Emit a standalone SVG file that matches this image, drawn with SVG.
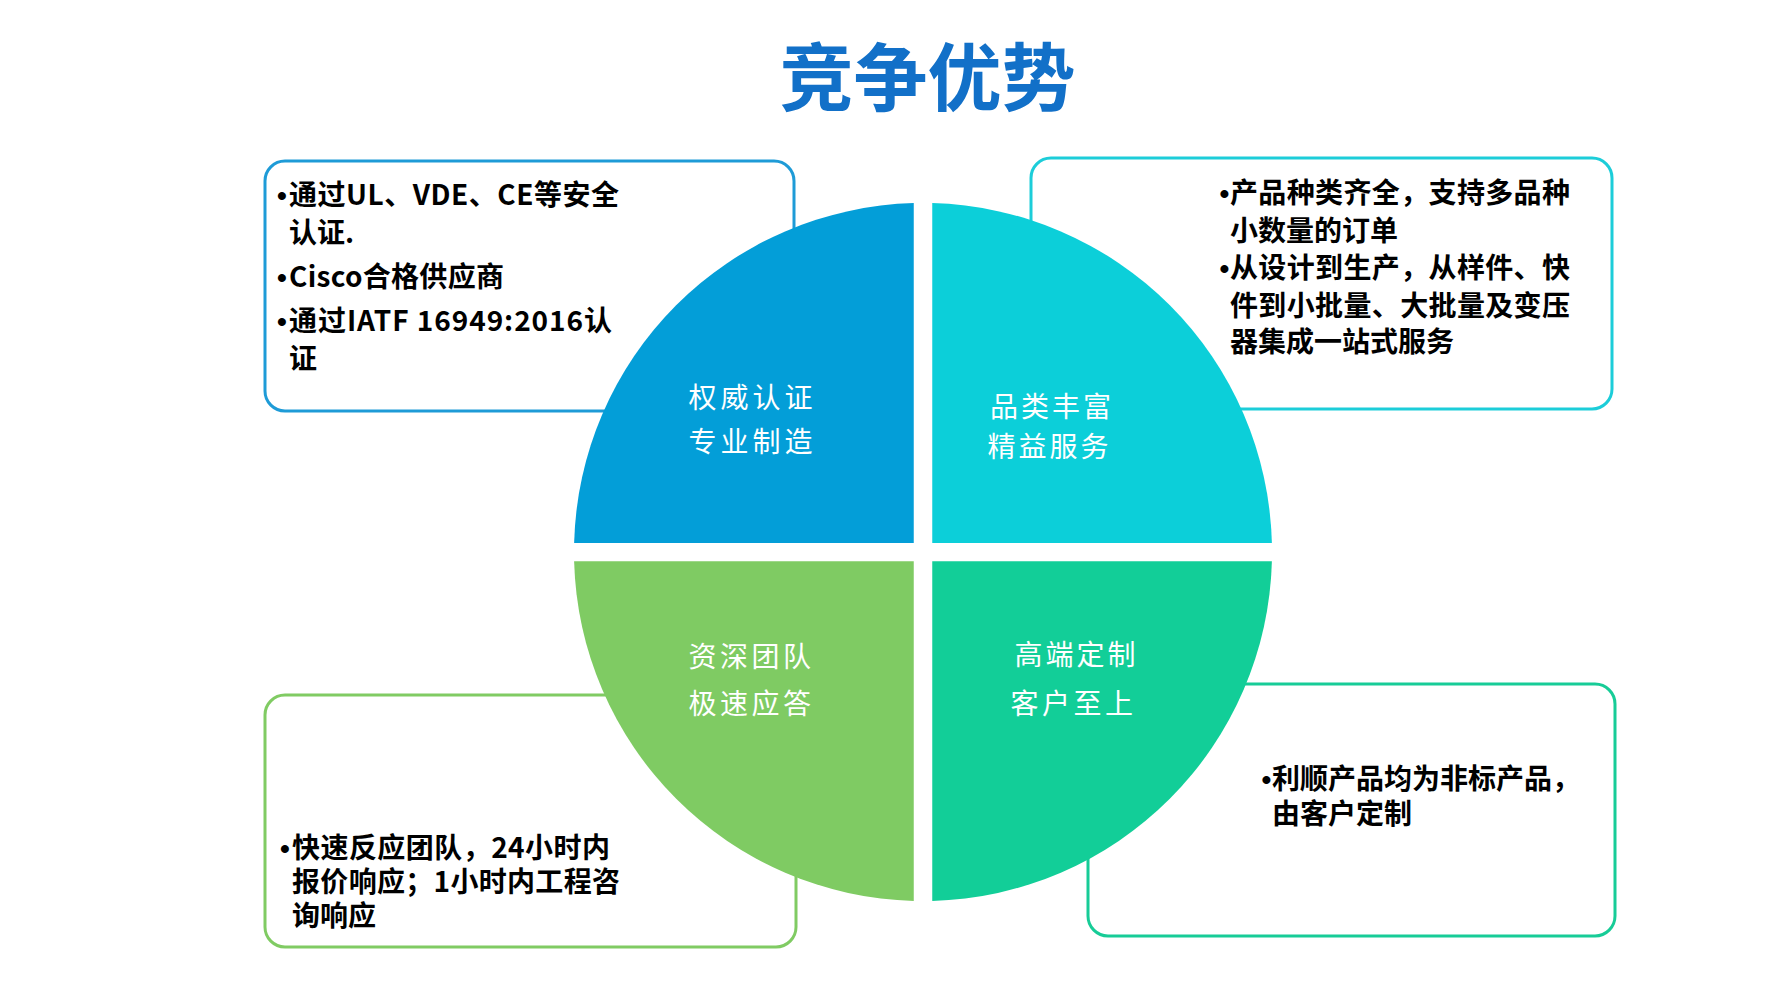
<svg xmlns="http://www.w3.org/2000/svg" width="1792" height="989" viewBox="0 0 1792 989">
<style>
.box{fill:#ffffff;stroke-width:3}
.bt{font-family:"Noto Sans CJK SC","Noto Sans",sans-serif;font-weight:700;font-size:28px;fill:#000000}
.bu{font-family:"Liberation Sans",Arial,sans-serif;font-weight:700;font-size:28px;fill:#000000}
.ql{font-family:"Noto Sans CJK SC","Noto Sans",sans-serif;font-weight:400;font-size:28px;fill:#ffffff;letter-spacing:4px}
.title{font-family:"Noto Sans CJK SC","Noto Sans",sans-serif;font-weight:700;font-size:74px;fill:#1270c8}
</style>
<rect width="1792" height="989" fill="#ffffff"/>
<g id="title">
<text class="title" x="927.5" y="105" text-anchor="middle">竞争优势</text>
</g>
<g id="box-tl">
<rect class="box" x="265" y="161" width="529" height="250" rx="20" stroke="#1e9bd7"/>
<text class="bu" x="277" y="204.5">•</text>
<text class="bt" x="289" y="204.5" textLength="330" lengthAdjust="spacing">通过UL、VDE、CE等安全</text>
<text class="bt" x="289" y="242.5">认证.</text>
<text class="bu" x="277" y="287">•</text>
<text class="bt" x="289" y="287" textLength="215" lengthAdjust="spacing">Cisco合格供应商</text>
<text class="bu" x="277" y="330.5">•</text>
<text class="bt" x="289" y="330.5" textLength="323" lengthAdjust="spacing">通过IATF 16949:2016认</text>
<text class="bt" x="289" y="368.5">证</text>
</g>
<g id="box-tr">
<rect class="box" x="1031" y="158" width="581" height="251" rx="20" stroke="#1ccdd9"/>
<text class="bu" x="1219.5" y="203">•</text>
<text class="bt" x="1230" y="203" textLength="340" lengthAdjust="spacing">产品种类齐全，支持多品种</text>
<text class="bt" x="1230" y="240.5">小数量的订单</text>
<text class="bu" x="1219.5" y="278">•</text>
<text class="bt" x="1230" y="278" textLength="340" lengthAdjust="spacing">从设计到生产，从样件、快</text>
<text class="bt" x="1230" y="315.5" textLength="340" lengthAdjust="spacing">件到小批量、大批量及变压</text>
<text class="bt" x="1230" y="352">器集成一站式服务</text>
</g>
<g id="box-bl">
<rect class="box" x="265" y="695" width="531" height="252" rx="20" stroke="#80cb63"/>
<text class="bu" x="280" y="858">•</text>
<text class="bt" x="292" y="858" textLength="318" lengthAdjust="spacing">快速反应团队，24小时内</text>
<text class="bt" x="292" y="892" textLength="328" lengthAdjust="spacing">报价响应；1小时内工程咨</text>
<text class="bt" x="292" y="925.5">询响应</text>
</g>
<g id="box-br">
<rect class="box" x="1088" y="684" width="527" height="252" rx="20" stroke="#17cc97"/>
<text class="bu" x="1261.5" y="788.5">•</text>
<text class="bt" x="1272" y="788.5">利顺产品均为非标产品，</text>
<text class="bt" x="1272" y="823.5">由客户定制</text>
</g>
<g id="q-tl">
<path d="M913.75,543 L913.75,203.12 A349,349 0 0 0 574.12,543 Z" fill="#039ed8"/>
<text class="ql" x="688.5" y="408">权威认证</text>
<text class="ql" x="688.5" y="451.5">专业制造</text>
</g>
<g id="q-tr">
<path d="M932.25,543 L932.25,203.12 A349,349 0 0 1 1271.88,543 Z" fill="#0ccfd9"/>
<text class="ql" x="990" y="416.5" style="letter-spacing:3px">品类丰富</text>
<text class="ql" x="987.5" y="457" style="letter-spacing:3px">精益服务</text>
</g>
<g id="q-bl">
<path d="M913.75,561.25 L913.75,900.88 A349,349 0 0 1 574.12,561.25 Z" fill="#7fcb63"/>
<text class="ql" x="688.5" y="666.5" style="letter-spacing:3.5px">资深团队</text>
<text class="ql" x="688.5" y="713.5" style="letter-spacing:3.5px">极速应答</text>
</g>
<g id="q-br">
<path d="M932.25,561.25 L932.25,900.88 A349,349 0 0 0 1271.88,561.25 Z" fill="#12ce98"/>
<text class="ql" x="1014.5" y="664.5" style="letter-spacing:3px">高端定制</text>
<text class="ql" x="1010.5" y="713.5" style="letter-spacing:3.5px">客户至上</text>
</g>
<g id="connectors"/>
</svg>
